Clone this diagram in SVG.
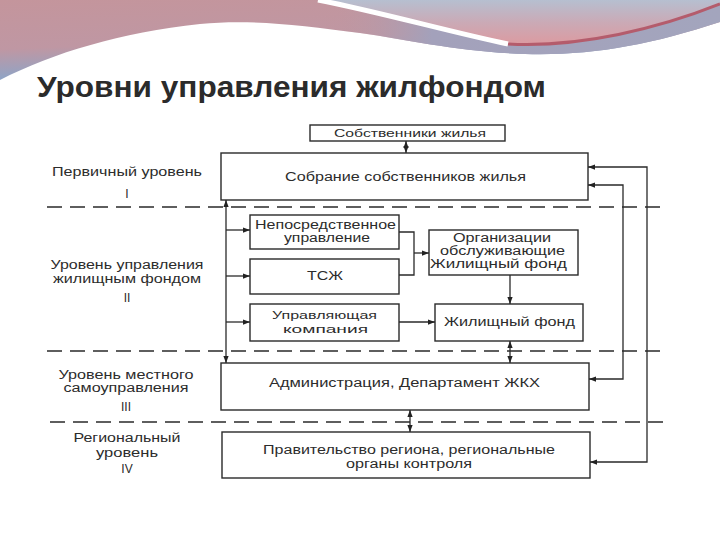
<svg xmlns="http://www.w3.org/2000/svg" width="720" height="540" viewBox="0 0 720 540">
<defs>
<linearGradient id="gLeft" x1="0" y1="0" x2="0.35" y2="1">
<stop offset="0" stop-color="#c4959c"/>
<stop offset="0.55" stop-color="#bf97a3"/>
<stop offset="1" stop-color="#7fa9d2"/>
</linearGradient>
<linearGradient id="gBand" x1="0" y1="0" x2="1" y2="0">
<stop offset="0" stop-color="#c4959c" stop-opacity="0"/>
<stop offset="0.45" stop-color="#c4959c" stop-opacity="0"/>
<stop offset="0.6" stop-color="#a3a1bb"/>
<stop offset="1" stop-color="#a3a5bd"/>
</linearGradient>
<linearGradient id="gTop" x1="0" y1="0" x2="0" y2="1">
<stop offset="0" stop-color="#b6bfd0"/>
<stop offset="0.5" stop-color="#caaab6"/>
<stop offset="1" stop-color="#dc9aa0"/>
</linearGradient>
<marker id="ah" viewBox="0 0 8 6" refX="8" refY="3" markerWidth="7" markerHeight="5.5" markerUnits="userSpaceOnUse" orient="auto-start-reverse">
<path d="M0,0 L8,3 L0,6 z" fill="#222"/>
</marker>
<style>
.box{fill:#fff;stroke:#2a2a2a;stroke-width:1.4}
.t{font-family:"Liberation Sans",Arial,sans-serif;font-size:12px;fill:#2c2c2c;text-anchor:middle}
.s{font-size:11px}
.dash{stroke:#2a2a2a;stroke-width:1.3;stroke-dasharray:15 8;fill:none}
.ln{stroke:#2a2a2a;stroke-width:1.3;fill:none}
.arr{stroke:#2a2a2a;stroke-width:1.3;fill:none;marker-end:url(#ah)}
.arr2{stroke:#2a2a2a;stroke-width:1.3;fill:none;marker-end:url(#ah);marker-start:url(#ah)}
</style>
</defs>
<rect width="720" height="540" fill="#fff"/>
<g id="decor">
<path d="M0,0 H720 V22 C650,45 590,56 525,54 C460,52 410,40 360,33 C300,25 250,19 200,24 C120,33 55,52 0,80 Z" fill="url(#gLeft)"/>
<path d="M0,0 H720 V22 C650,45 590,56 525,54 C460,52 410,40 360,33 C300,25 250,19 200,24 C120,33 55,52 0,80 Z" fill="url(#gBand)"/>
<path d="M318,0 C380,12 450,32 508,44 C580,48 660,28 720,4 V0 Z" fill="url(#gTop)"/>
<path d="M508,44 C580,48 660,28 720,4" stroke="#b45c6c" stroke-width="3" fill="none"/>
<path d="M318,0 C380,12 450,32 508,44" stroke="#fff" stroke-width="5" fill="none"/>
</g>
<text x="37" y="97" font-family="'Liberation Sans',Arial,sans-serif" font-size="29" font-weight="bold" fill="#2b2b2b" textLength="509" lengthAdjust="spacingAndGlyphs">Уровни управления жилфондом</text>
<g id="levels">
<line class="dash" x1="47" y1="207" x2="667" y2="207"/>
<line class="dash" x1="47" y1="351" x2="667" y2="351"/>
<line class="dash" x1="50" y1="422" x2="663" y2="422"/>
<text class="t" x="127" y="176" textLength="150" lengthAdjust="spacingAndGlyphs">Первичный уровень</text>
<text class="t" x="127" y="198">I</text>
<text class="t" x="127" y="269" textLength="153" lengthAdjust="spacingAndGlyphs">Уровень управления</text>
<text class="t" x="127" y="283" textLength="148" lengthAdjust="spacingAndGlyphs">жилищным фондом</text>
<text class="t" x="127" y="302">II</text>
<text class="t" x="126" y="379" textLength="135" lengthAdjust="spacingAndGlyphs">Уровень местного</text>
<text class="t" x="126" y="392" textLength="125" lengthAdjust="spacingAndGlyphs">самоуправления</text>
<text class="t" x="126" y="411">III</text>
<text class="t" x="127" y="442" textLength="107" lengthAdjust="spacingAndGlyphs">Региональный</text>
<text class="t" x="127" y="457" textLength="62" lengthAdjust="spacingAndGlyphs">уровень</text>
<text class="t" x="127" y="473">IV</text>
</g>
<g id="owners">
<rect class="box" x="310" y="125" width="195" height="16"/>
<text class="t s" x="410" y="137" textLength="152" lengthAdjust="spacingAndGlyphs">Собственники жилья</text>
</g>
<g id="meeting">
<rect class="box" x="221" y="153" width="367" height="47"/>
<text class="t" x="405.5" y="181" textLength="241" lengthAdjust="spacingAndGlyphs">Собрание собственников жилья</text>
</g>
<g id="direct">
<rect class="box" x="250" y="215" width="149" height="34"/>
<text class="t" x="325.5" y="229" textLength="141" lengthAdjust="spacingAndGlyphs">Непосредственное</text>
<text class="t" x="327" y="242" textLength="86" lengthAdjust="spacingAndGlyphs">управление</text>
</g>
<g id="tszh">
<rect class="box" x="250" y="259" width="149" height="35"/>
<text class="t" x="325" y="280" textLength="36" lengthAdjust="spacingAndGlyphs">ТСЖ</text>
</g>
<g id="mgmt">
<rect class="box" x="250" y="304" width="149" height="37"/>
<text class="t s" x="324.5" y="319" textLength="105" lengthAdjust="spacingAndGlyphs">Управляющая</text>
<text class="t s" x="325.5" y="333" textLength="85" lengthAdjust="spacingAndGlyphs">компания</text>
</g>
<g id="orgs">
<rect class="box" x="429" y="230" width="149" height="45"/>
<text class="t" x="502" y="242" textLength="98" lengthAdjust="spacingAndGlyphs">Организации</text>
<text class="t" x="502.5" y="255" textLength="125" lengthAdjust="spacingAndGlyphs">обслуживающие</text>
<text class="t" x="498.5" y="268" textLength="137" lengthAdjust="spacingAndGlyphs">Жилищный фонд</text>
</g>
<g id="fund">
<rect class="box" x="435" y="304" width="148" height="37"/>
<text class="t" x="509.5" y="326" textLength="131" lengthAdjust="spacingAndGlyphs">Жилищный фонд</text>
</g>
<g id="admin">
<rect class="box" x="221" y="363" width="368" height="47"/>
<text class="t" x="404.5" y="387" textLength="271" lengthAdjust="spacingAndGlyphs">Администрация,  Департамент ЖКХ</text>
</g>
<g id="gov">
<rect class="box" x="222" y="432" width="368" height="46"/>
<text class="t" x="409" y="454" textLength="292" lengthAdjust="spacingAndGlyphs">Правительство региона, региональные</text>
<text class="t" x="409" y="468" textLength="126" lengthAdjust="spacingAndGlyphs">органы контроля</text>
</g>
<g id="connectors">
<line class="arr2" x1="406" y1="141" x2="406" y2="153"/>
<line class="arr2" x1="226" y1="200" x2="226" y2="363"/>
<line class="arr" x1="226" y1="230" x2="250" y2="230"/>
<line class="arr" x1="226" y1="276" x2="250" y2="276"/>
<line class="arr" x1="226" y1="322" x2="250" y2="322"/>
<polyline class="ln" points="399,232 414,232 414,275 399,275"/>
<line class="arr" x1="414" y1="253" x2="429" y2="253"/>
<line class="arr" x1="510" y1="275" x2="510" y2="304"/>
<line class="arr" x1="399" y1="322" x2="435" y2="322"/>
<line class="arr2" x1="510" y1="341" x2="510" y2="363"/>
<line class="arr2" x1="410" y1="410" x2="410" y2="432"/>
<polyline class="arr2" points="588,167 647,167 647,462 590,462"/>
<polyline class="arr2" points="588,185 623,185 623,379 589,379"/>
</g>
</svg>
